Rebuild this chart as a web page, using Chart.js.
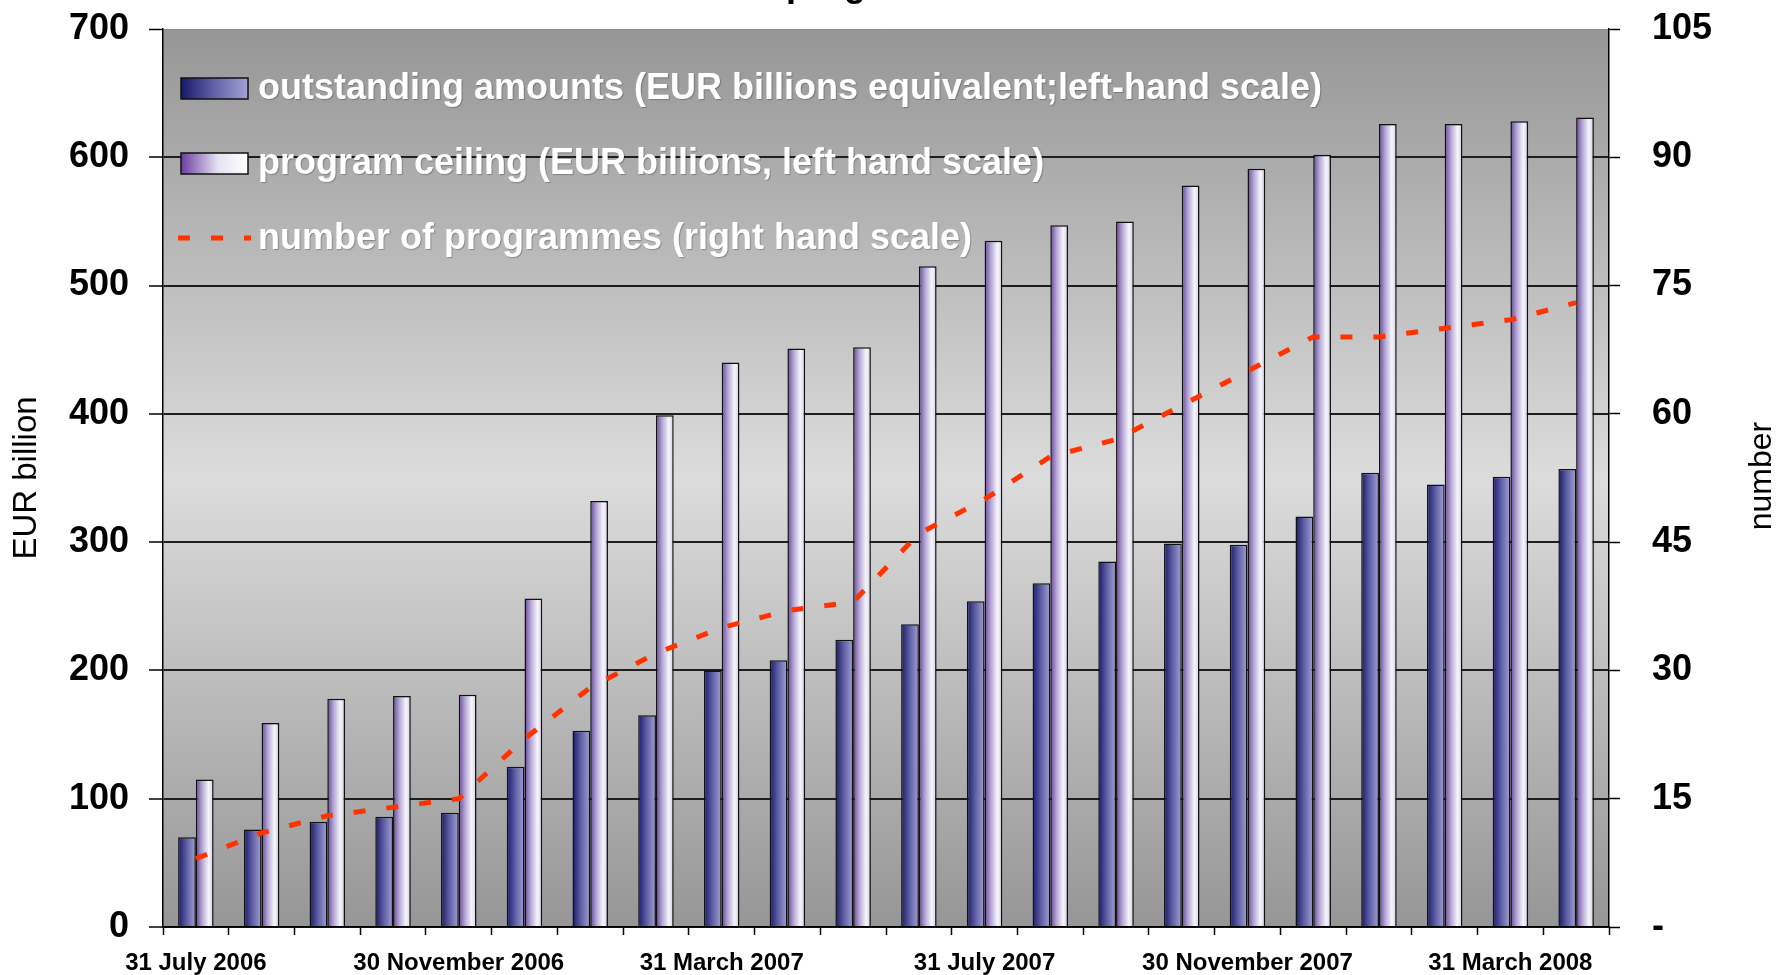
<!DOCTYPE html>
<html>
<head>
<meta charset="utf-8">
<title>Programmes chart</title>
<script src="https://cdn.jsdelivr.net/npm/chart.js@4.4.1/dist/chart.umd.min.js"></script>
<style>
  html, body { margin: 0; padding: 0; background: #fff; }
  .graph-container { position: relative; width: 1780px; height: 975px; }
</style>
</head>
<body>
<div class="graph-container"><canvas id="myChart"></canvas></div>
<script>
// data
const categories = [
    '31 July 2006', '31 August 2006', '30 September 2006', '31 October 2006',
    '30 November 2006', '31 December 2006', '31 January 2007', '28 February 2007',
    '31 March 2007', '30 April 2007', '31 May 2007', '30 June 2007',
    '31 July 2007', '31 August 2007', '30 September 2007', '31 October 2007',
    '30 November 2007', '31 December 2007', '31 January 2008', '29 February 2008',
    '31 March 2008', '30 April 2008'
];
const outstanding = [70, 76, 82, 86, 89, 125, 153, 165, 200, 208, 224, 236, 254, 268, 285, 299, 298, 320, 354, 345, 351, 357];
const ceiling = [115, 159, 178, 180, 181, 256, 332, 399, 440, 451, 452, 515, 535, 547, 550, 578, 591, 602, 626, 626, 628, 631];
const programmes = [8, 11, 13, 14, 15, 22, 28, 32, 35, 37, 38, 46, 50, 55, 57, 61, 65, 69, 69, 70, 71, 73];
const rightTickLabels = ['-', '15', '30', '45', '60', '75', '90', '105'];

const seriesLabels = [
    'outstanding amounts (EUR billions equivalent;left-hand scale)',
    'program ceiling (EUR billions, left hand scale)',
    'number of programmes (right hand scale)'
];
const leftTitle = 'EUR billion';
const rightTitle = 'number';
const chartTitle = 'Number of programmes';

const FONT = "'Liberation Sans', Arial, sans-serif";
const catPct = 0.54;

const outstandingStops = [[0, '#18186a'], [0.45, '#5b5ba2'], [1, '#a2a2d6']];
const ceilingStops = [[0, '#64449a'], [0.35, '#b4a6d4'], [0.72, '#f6f4fb'], [1, '#d4d0e4']];

// horizontal gradient for each bar, placed from the x scale
function barGradient(stops, side) {
    return function (ctx) {
        const chart = ctx.chart;
        const xs = chart.scales.x;
        if (!chart.chartArea || !xs || ctx.dataIndex === undefined) return stops[1][1];
        const w = xs.width / categories.length * catPct / 2;
        const cx = xs.getPixelForValue(ctx.dataIndex);
        const x0 = side < 0 ? cx - w : cx;
        const g = chart.ctx.createLinearGradient(x0, 0, x0 + w, 0);
        stops.forEach(s => g.addColorStop(s[0], s[1]));
        return g;
    };
}

const backdrop = {
    id: 'backdrop',
    beforeDraw(chart) {
        const { ctx, chartArea: a } = chart;
        ctx.save();
        ctx.fillStyle = '#ffffff';
        ctx.fillRect(0, 0, chart.width, chart.height);
        const g = ctx.createLinearGradient(0, a.top, 0, a.bottom);
        g.addColorStop(0, '#969696');
        g.addColorStop(0.5, '#dcdcdc');
        g.addColorStop(1, '#969696');
        ctx.fillStyle = g;
        ctx.fillRect(a.left, a.top, a.right - a.left, a.bottom - a.top);
        ctx.restore();
    }
};

const overlay = {
    id: 'overlay',
    afterDraw(chart) {
        const ctx = chart.ctx;
        ctx.save();

        // title, cut off by the top edge as in the reference
        ctx.fillStyle = '#000';
        ctx.font = 'bold 36px ' + FONT;
        ctx.textAlign = 'left';
        ctx.textBaseline = 'alphabetic';
        ctx.fillText(chartTitle, 596, -4);

        // right axis title, reads bottom to top
        ctx.translate(1762, 476);
        ctx.rotate(-Math.PI / 2);
        ctx.font = '32px ' + FONT;
        ctx.textAlign = 'center';
        ctx.textBaseline = 'middle';
        ctx.fillText(rightTitle, 0, 0);
        ctx.setTransform(1, 0, 0, 1, 0, 0);

        // legend
        const swatches = [outstandingStops, [[0, '#6a3ea0'], [0.55, '#e6e2f2'], [1, '#ffffff']]];
        [78, 153].forEach((y, i) => {
            const g = ctx.createLinearGradient(181, 0, 248, 0);
            swatches[i].forEach(s => g.addColorStop(s[0], s[1]));
            ctx.fillStyle = g;
            ctx.fillRect(181, y, 67, 21);
            ctx.strokeStyle = '#111';
            ctx.lineWidth = 1.5;
            ctx.strokeRect(181, y, 67, 21);
        });
        ctx.strokeStyle = '#ff3300';
        ctx.lineWidth = 5;
        ctx.setLineDash([12, 21]);
        ctx.beginPath();
        ctx.moveTo(178, 238);
        ctx.lineTo(251, 238);
        ctx.stroke();
        ctx.setLineDash([]);

        ctx.font = 'bold 36px ' + FONT;
        ctx.textAlign = 'left';
        ctx.textBaseline = 'alphabetic';
        ctx.fillStyle = '#ffffff';
        ctx.shadowColor = 'rgba(0,0,0,0.25)';
        ctx.shadowOffsetX = 1;
        ctx.shadowOffsetY = 1;
        ctx.shadowBlur = 1;
        [99, 174, 249].forEach((y, i) => ctx.fillText(seriesLabels[i], 258, y));
        ctx.restore();
    }
};

document.addEventListener('DOMContentLoaded', function () {
    const ctx = document.getElementById('myChart').getContext('2d');

    new Chart(ctx, {
        type: 'bar',
        data: {
            labels: categories,
            datasets: [
                {
                    type: 'line',
                    label: seriesLabels[2],
                    data: programmes,
                    yAxisID: 'y1',
                    borderColor: '#ff3300',
                    borderWidth: 5,
                    borderDash: [12, 21],
                    pointRadius: 0,
                    tension: 0,
                    fill: false,
                    order: 0
                },
                {
                    label: seriesLabels[0],
                    data: outstanding,
                    yAxisID: 'y',
                    backgroundColor: barGradient(outstandingStops, -1),
                    borderColor: '#111',
                    borderWidth: 1.5,
                    order: 1
                },
                {
                    label: seriesLabels[1],
                    data: ceiling,
                    yAxisID: 'y',
                    backgroundColor: barGradient(ceilingStops, 1),
                    borderColor: '#111',
                    borderWidth: 1.5,
                    order: 1
                }
            ]
        },
        options: {
            responsive: true,
            maintainAspectRatio: false,
            animation: false,
            categoryPercentage: catPct,
            barPercentage: 1.0,
            layout: { padding: { top: 29, left: 0, right: 0, bottom: 0 } },
            plugins: {
                legend: { display: false },
                title: { display: false },
                tooltip: { enabled: false }
            },
            scales: {
                x: {
                    offset: true,
                    grid: {
                        offset: true,
                        drawOnChartArea: false,
                        drawTicks: true,
                        tickLength: 8,
                        color: '#000',
                        tickWidth: 1.5
                    },
                    border: { color: '#000', width: 1.5 },
                    ticks: {
                        autoSkip: false,
                        maxRotation: 0,
                        minRotation: 0,
                        padding: 14,
                        color: '#000',
                        font: { family: FONT, size: 24, weight: 'bold' },
                        callback: (v, i) => (i % 4 === 0 ? categories[i] : '')
                    },
                    afterFit(s) { s.height = 48; }
                },
                y: {
                    position: 'left',
                    min: 0,
                    max: 700,
                    ticks: {
                        stepSize: 100,
                        padding: 20,
                        color: '#000',
                        font: { family: FONT, size: 36, weight: 'bold' }
                    },
                    grid: {
                        color: c => (c.tick && c.tick.value === 700 ? '#8c8c8c' : '#1e1e1e'),
                        lineWidth: c => (c.tick && c.tick.value === 700 ? 1 : 2),
                        tickColor: '#000',
                        tickWidth: 1.5,
                        tickLength: 14
                    },
                    border: { color: '#000', width: 1.5 },
                    title: {
                        display: true,
                        text: leftTitle,
                        color: '#000',
                        font: { family: FONT, size: 33 },
                        padding: { top: 7, bottom: 0 }
                    },
                    afterFit(s) { s.width = 163; s.paddingTop = 0; s.paddingBottom = 0; }
                },
                y1: {
                    position: 'right',
                    min: 0,
                    max: 105,
                    ticks: {
                        stepSize: 15,
                        padding: 32,
                        color: '#000',
                        font: { family: FONT, size: 36, weight: 'bold' },
                        callback: (v, i) => rightTickLabels[i]
                    },
                    grid: {
                        drawOnChartArea: false,
                        color: '#000',
                        tickWidth: 1.5,
                        tickLength: 11
                    },
                    border: { color: '#000', width: 1.5 },
                    afterFit(s) { s.width = 171; s.paddingTop = 0; s.paddingBottom = 0; }
                }
            }
        },
        plugins: [backdrop, overlay]
    });
});
</script>
</body>
</html>
